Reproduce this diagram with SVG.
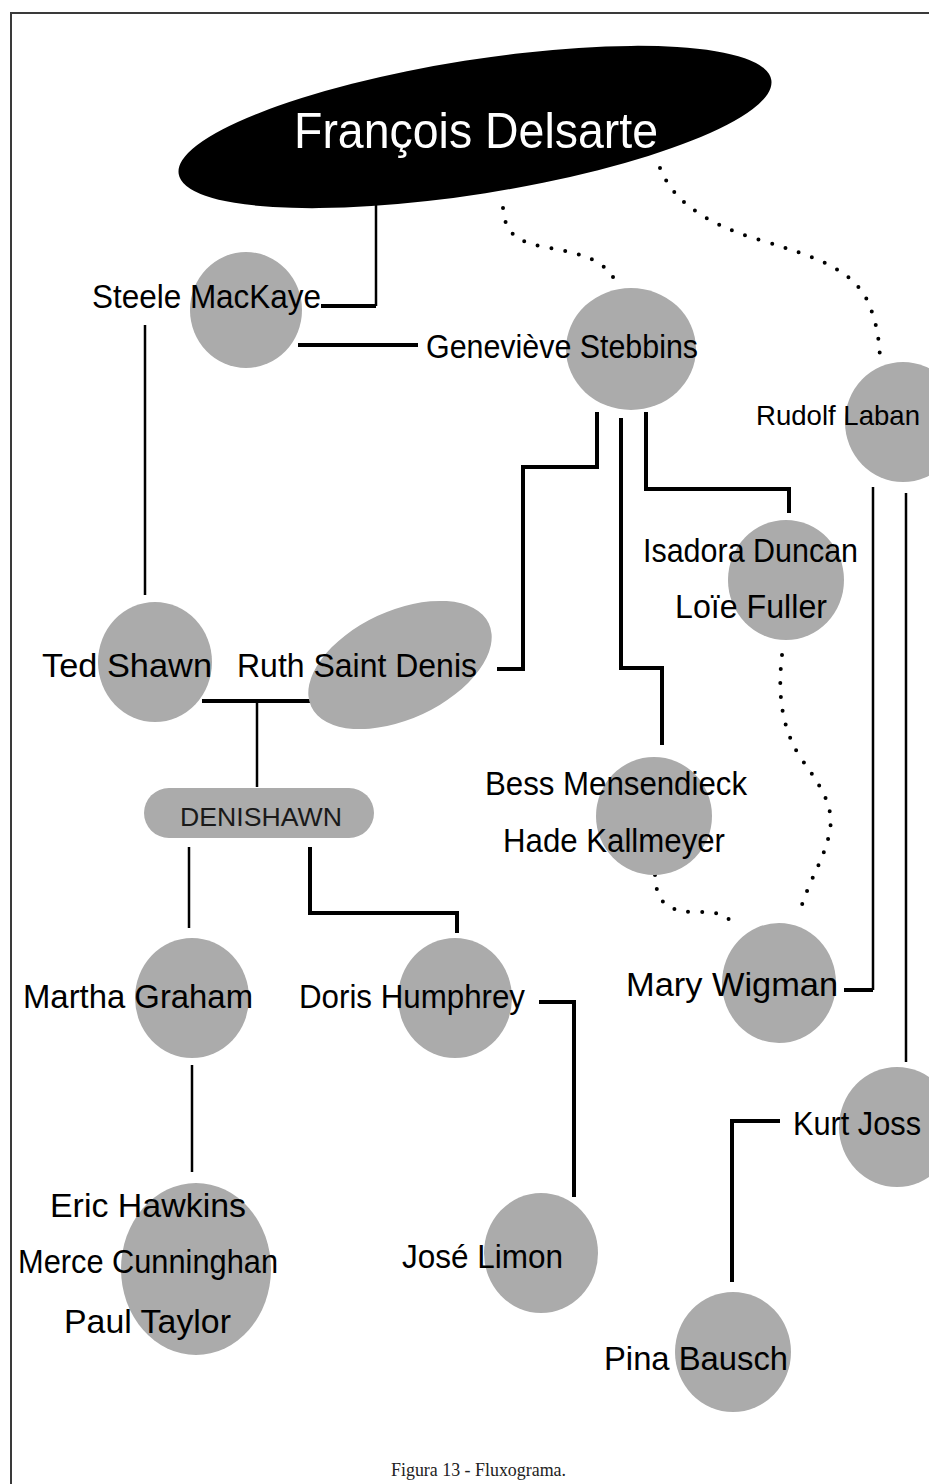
<svg xmlns="http://www.w3.org/2000/svg" width="929" height="1484" viewBox="0 0 929 1484">
<style>
.c{fill:#ababab}
.t{font-family:"Liberation Sans","DejaVu Sans",sans-serif;font-size:33px;fill:#000}
.s{font-family:"Liberation Sans","DejaVu Sans",sans-serif;font-size:25px;fill:#1a1a1a}
.l{fill:none;stroke:#000;stroke-width:4}
.l2{fill:none;stroke:#000;stroke-width:2.5}
.d{fill:none;stroke:#000;stroke-width:4;stroke-linecap:round;stroke-dasharray:0 14}
</style>
<rect x="0" y="0" width="929" height="1484" fill="#fff"/>
<rect x="11" y="13" width="940" height="1490" fill="none" stroke="#3a3a3a" stroke-width="2"/>

<g id="connectors">
  <path class="l2" d="M376,200 V306"/>
  <path class="l" d="M376,306 H321"/>
  <path class="l" d="M298,345 H418"/>
  <path class="l2" d="M145,325 V595"/>
  <path class="l" d="M597,412 V467 H523 V669 H497"/>
  <path class="l" d="M621,418 V668 H662 V745"/>
  <path class="l" d="M646,412 V489 H789 V513"/>
  <path class="l" d="M202,701 H310"/>
  <path class="l2" d="M257,701 V787"/>
  <path class="l2" d="M189,847 V928"/>
  <path class="l" d="M310,847 V913 H457 V933"/>
  <path class="l" d="M539,1002 H574 V1197"/>
  <path class="l2" d="M192,1065 V1172"/>
  <path class="l2" d="M873,487 V990"/>
  <path class="l" d="M873,990 H844"/>
  <path class="l2" d="M906,493 V1062"/>
  <path class="l" d="M780,1121 H732 V1282"/>
  <path class="d" d="M503,208 C505,236 520,243 550,248 C585,254 610,262 618,288"/>
  <path class="d" d="M660,168 C672,198 700,222 760,240 C820,258 850,270 866,298 C876,318 880,340 880,364"/>
  <path class="d" d="M782,655 C778,690 780,725 800,757 C820,785 834,805 830,830 C825,860 808,880 799,915"/>
  <path class="d" d="M655,875 C656,900 665,910 690,912 C715,912 726,912 734,926"/>
</g>

<g id="delsarte">
  <ellipse cx="475" cy="127" rx="300" ry="67" transform="rotate(-9 475 127)" fill="#000"/>
  <text x="294" y="148" font-family="Liberation Sans, DejaVu Sans, sans-serif" font-size="50" fill="#fff" textLength="364" lengthAdjust="spacingAndGlyphs">François Delsarte</text>
</g>
<g id="steele">
  <ellipse class="c" cx="246" cy="310" rx="56" ry="58"/>
  <text class="t" x="92" y="308" textLength="229" lengthAdjust="spacingAndGlyphs">Steele MacKaye</text>
</g>
<g id="stebbins">
  <ellipse class="c" cx="631" cy="349" rx="65" ry="61"/>
  <text class="t" x="426" y="358" textLength="272" lengthAdjust="spacingAndGlyphs">Geneviève Stebbins</text>
</g>
<g id="laban">
  <ellipse class="c" cx="903" cy="422" rx="58" ry="60"/>
  <text class="t" x="756" y="425" style="font-size:28px" textLength="164" lengthAdjust="spacingAndGlyphs">Rudolf Laban</text>
</g>
<g id="duncan-fuller">
  <ellipse class="c" cx="786" cy="580" rx="58" ry="60"/>
  <text class="t" x="643" y="562" textLength="215" lengthAdjust="spacingAndGlyphs">Isadora Duncan</text>
  <text class="t" x="675" y="618" textLength="152" lengthAdjust="spacingAndGlyphs">Loïe Fuller</text>
</g>
<g id="shawn">
  <ellipse class="c" cx="155" cy="662" rx="57" ry="60"/>
  <text class="t" x="42" y="677" textLength="170" lengthAdjust="spacingAndGlyphs">Ted Shawn</text>
</g>
<g id="saint-denis">
  <ellipse class="c" cx="400" cy="665" rx="98" ry="54" transform="rotate(-25 400 665)"/>
  <text class="t" x="237" y="677" textLength="240" lengthAdjust="spacingAndGlyphs">Ruth Saint Denis</text>
</g>
<g id="denishawn">
  <rect class="c" x="144" y="788" width="230" height="50" rx="25"/>
  <text class="s" x="180" y="826" textLength="162" lengthAdjust="spacingAndGlyphs">DENISHAWN</text>
</g>
<g id="mensendieck-kallmeyer">
  <ellipse class="c" cx="654" cy="816" rx="58" ry="59"/>
  <text class="t" x="485" y="795" textLength="262" lengthAdjust="spacingAndGlyphs">Bess Mensendieck</text>
  <text class="t" x="503" y="852" textLength="222" lengthAdjust="spacingAndGlyphs">Hade Kallmeyer</text>
</g>
<g id="wigman">
  <ellipse class="c" cx="779" cy="983" rx="57" ry="60"/>
  <text class="t" x="626" y="996" textLength="212" lengthAdjust="spacingAndGlyphs">Mary Wigman</text>
</g>
<g id="graham">
  <ellipse class="c" cx="192" cy="998" rx="57" ry="60"/>
  <text class="t" x="23" y="1008" textLength="230" lengthAdjust="spacingAndGlyphs">Martha Graham</text>
</g>
<g id="humphrey">
  <ellipse class="c" cx="455" cy="998" rx="57" ry="60"/>
  <text class="t" x="299" y="1008" textLength="226" lengthAdjust="spacingAndGlyphs">Doris Humphrey</text>
</g>
<g id="jooss">
  <ellipse class="c" cx="897" cy="1127" rx="58" ry="60"/>
  <text class="t" x="793" y="1135" textLength="128" lengthAdjust="spacingAndGlyphs">Kurt Joss</text>
</g>
<g id="hawkins-cunningham-taylor">
  <ellipse class="c" cx="196" cy="1269" rx="75" ry="86"/>
  <text class="t" x="50" y="1217" textLength="196" lengthAdjust="spacingAndGlyphs">Eric Hawkins</text>
  <text class="t" x="18" y="1273" textLength="260" lengthAdjust="spacingAndGlyphs">Merce Cunninghan</text>
  <text class="t" x="64" y="1333" textLength="167" lengthAdjust="spacingAndGlyphs">Paul Taylor</text>
</g>
<g id="limon">
  <ellipse class="c" cx="541" cy="1253" rx="57" ry="60"/>
  <text class="t" x="402" y="1268" textLength="161" lengthAdjust="spacingAndGlyphs">José Limon</text>
</g>
<g id="bausch">
  <ellipse class="c" cx="733" cy="1352" rx="58" ry="60"/>
  <text class="t" x="604" y="1370" textLength="184" lengthAdjust="spacingAndGlyphs">Pina Bausch</text>
</g>
<text x="391" y="1476" font-family="Liberation Serif, DejaVu Serif, serif" font-size="19" fill="#222" textLength="175" lengthAdjust="spacingAndGlyphs">Figura 13 - Fluxograma.</text>
</svg>
